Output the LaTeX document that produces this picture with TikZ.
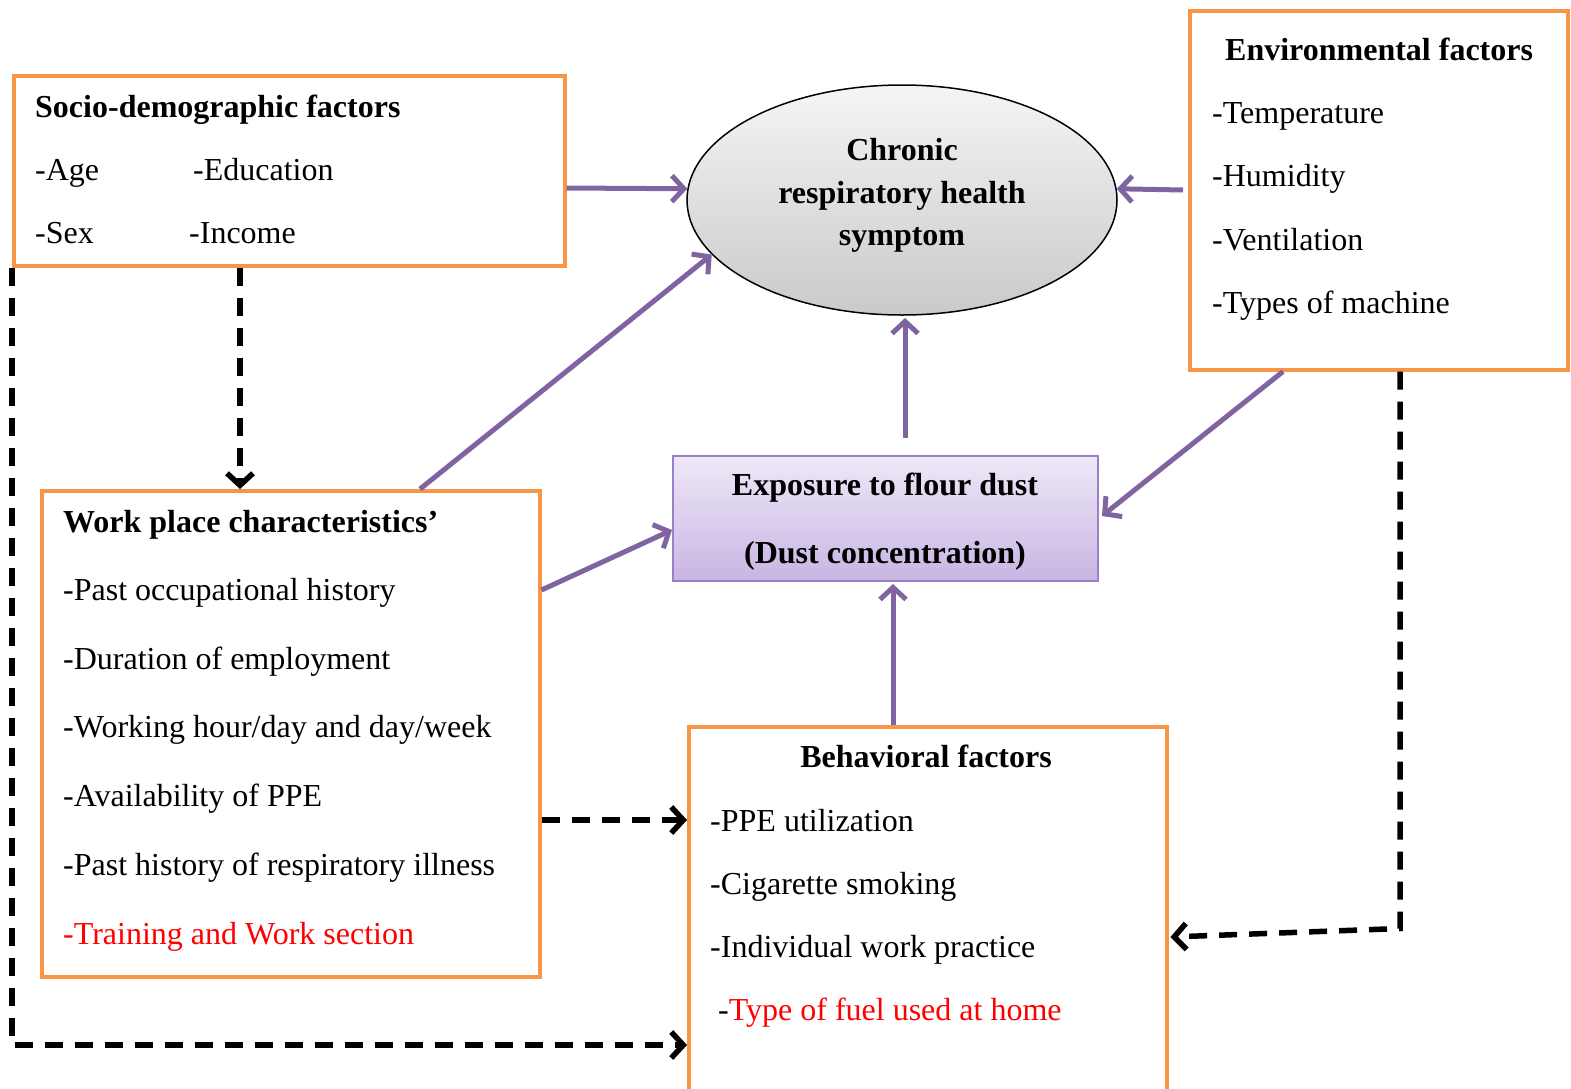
\documentclass[tikz,border=0pt]{standalone}
\usepackage{fontspec}
\setmainfont{Liberation Serif}
\usetikzlibrary{arrows.meta,shapes.geometric,calc}
\definecolor{orng}{HTML}{F79646}
\definecolor{purp}{HTML}{8064A2}
\definecolor{expoborder}{HTML}{9B7FC8}
\definecolor{expotop}{HTML}{EEE8F7}
\definecolor{expobot}{HTML}{C8B5E3}
\begin{document}
\begin{tikzpicture}[x=1pt,y=-1pt,
  obox/.style={draw=orng, line width=3.5pt, rectangle, anchor=north west, inner sep=0pt},
  txt/.style={anchor=base west, inner sep=0pt, font=\fontsize{32}{38}\selectfont},
  ttl/.style={anchor=base west, inner sep=0pt, font=\fontsize{32}{38}\selectfont\bfseries},
  ctl/.style={anchor=base, inner sep=0pt, font=\fontsize{32}{38}\selectfont\bfseries},
  parr/.style={draw=purp, line width=5pt, -{Straight Barb[length=12pt,width=26pt]}},
  darr/.style={draw=black, line width=5.5pt, dash pattern=on 18pt off 12pt, -{Straight Barb[length=12pt,width=26pt]}}]
\useasboundingbox (0,0) rectangle (1571,1088);

% boxes
\node[obox, minimum width=551pt, minimum height=190pt] (socio) at (12,74) {};
\node[obox, minimum width=378pt, minimum height=359pt] (env) at (1188,9) {};
\node[obox, minimum width=498pt, minimum height=486pt] (work) at (40,489) {};
\node[obox, minimum width=478pt, minimum height=375pt] (behav) at (687,725) {};
\node[rectangle, anchor=north west, draw=expoborder, line width=2pt, top color=expotop, bottom color=expobot,
      minimum width=425pt, minimum height=125pt] (expo) at (672,455) {};
\node[ellipse, draw=black, line width=1.5pt, top color=gray!8, bottom color=gray!42,
      minimum width=430pt, minimum height=230pt] (chronic) at (902,200) {};

% ellipse text
\node[ctl] (c1) at (902,160) {Chronic};
\node[ctl] (c2) at (902,203) {respiratory health};
\node[ctl] (c3) at (902,245) {symptom};

% exposure text
\node[ctl] (e1) at (885,495) {Exposure to flour dust};
\node[ctl] (e2) at (885,563) {(Dust concentration)};

% socio text
\node[ttl] (s0) at (35,117) {Socio-demographic factors};
\node[txt] (s1) at (35,180) {-Age};
\node[txt] (s2) at (193,180) {-Education};
\node[txt] (s3) at (35,243) {-Sex};
\node[txt] (s4) at (189,243) {-Income};

% env text
\node[ttl] (v0) at (1225,60) {Environmental factors};
\node[txt] (v1) at (1212,123) {-Temperature};
\node[txt] (v2) at (1212,186) {-Humidity};
\node[txt] (v3) at (1212,250) {-Ventilation};
\node[txt] (v4) at (1212,313) {-Types of machine};

% work text
\node[ttl] (w0) at (63,532) {Work place characteristics’};
\node[txt] (w1) at (63,600) {-Past occupational history};
\node[txt] (w2) at (63,669) {-Duration of employment};
\node[txt] (w3) at (63,737) {-Working hour/day and day/week};
\node[txt] (w4) at (63,806) {-Availability of PPE};
\node[txt] (w5) at (63,875) {-Past history of respiratory illness};
\node[txt, text=red] (w6) at (63,944) {-Training and Work section};

% behavioral text
\node[ctl] (b0) at (926,767) {Behavioral factors};
\node[txt] (b1) at (710,831) {-PPE utilization};
\node[txt] (b2) at (710,894) {-Cigarette smoking};
\node[txt] (b3) at (710,957) {-Individual work practice};
\node[txt] (b4) at (718,1020) {-\textcolor{red}{Type of fuel used at home}};

% purple arrows
\draw[parr] ($(socio.north east)+(0,114)$) -- (chronic.177);
\draw[parr] ($(env.north west)+(-5,181)$) -- (chronic.3);
\draw[parr] ($(work.north west)+(380,0)$) -- (chronic.196);
\draw[parr] ($(expo.north west)+(233,-17)$) -- ($(expo.north west)+(233,-137)$);
\draw[parr] ($(env.south west)+(95,0)$) -- ($(expo.north east)+(3,61)$);
\draw[parr] ($(work.north east)+(0,101)$) -- ($(expo.north west)+(0,75)$);
\draw[parr] ($(behav.north west)+(206,0)$) -- ($(expo.south west)+(221,2)$);

% dashed arrows
\draw[darr] ($(socio.south west)+(228,0)$) -- ($(work.north west)+(200,0)$);
\draw[darr] (socio.south west) |- ($(behav.north west)+(0,320)$);
\draw[darr] ($(work.north east)+(0,331)$) -- ($(behav.north west)+(0,95)$);
\draw[darr] ($(env.south west)+(212,0)$) -- ++(0,557) -- ($(behav.north east)+(2,212)$);
\end{tikzpicture}
\end{document}
